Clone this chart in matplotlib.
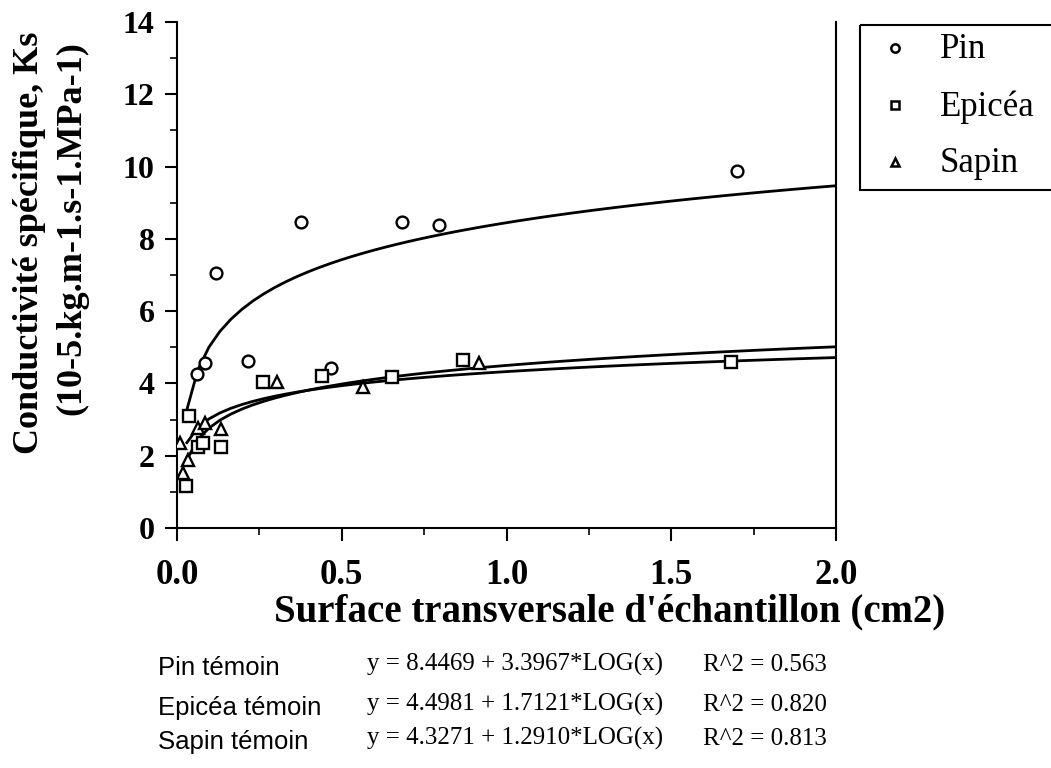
import numpy as np
import matplotlib
matplotlib.use("Agg")
import matplotlib.pyplot as plt
from matplotlib.patches import Rectangle
from matplotlib.ticker import MultipleLocator, FormatStrFormatter

SERIF = "Liberation Serif"
SANS = "Liberation Sans"

# --- data ---
pin_x = [0.062, 0.085, 0.118, 0.215, 0.376, 0.466, 0.682, 0.796, 1.699]
pin_y = [4.25, 4.56, 7.05, 4.62, 8.48, 4.44, 8.48, 8.39, 9.88]

epicea_x = [0.027, 0.037, 0.065, 0.078, 0.134, 0.262, 0.441, 0.652, 0.869, 1.681]
epicea_y = [1.16, 3.10, 2.25, 2.34, 2.25, 4.03, 4.21, 4.19, 4.65, 4.60]

sapin_x = [0.009, 0.019, 0.034, 0.065, 0.085, 0.134, 0.302, 0.565, 0.918]
sapin_y = [2.36, 1.51, 1.88, 2.76, 2.90, 2.74, 4.05, 3.91, 4.56]

# log10 fits printed under the chart: y = a + b*LOG(x)
fit_a = [8.4469, 4.4981, 4.3271]
fit_b = [3.3967, 1.7121, 1.2910]
fit_r2 = [0.563, 0.820, 0.813]
fit_names = ["Pin témoin", "Epicéa témoin", "Sapin témoin"]

legend_names = ["Pin", "Epicéa", "Sapin"]
markers = ["o", "s", "^"]

fig = plt.figure(figsize=(10.51, 7.68), dpi=100)
W, H = 1051, 768
ax = fig.add_axes([177 / W, 1 - 528 / H, (836 - 177) / W, (528 - 22) / H])

# fitted curves
xfit = np.linspace(0.03, 2.0, 60)
for a, b in zip(fit_a, fit_b):
    ax.plot(xfit, a + b * np.log10(xfit), color="black", lw=2.0, zorder=2)

for xs, ys, m in zip((pin_x, epicea_x, sapin_x), (pin_y, epicea_y, sapin_y), markers):
    ax.plot(xs, ys, linestyle="none", marker=m, ms=8.5, mfc="white",
            mec="black", mew=1.7, zorder=3)

ax.set_xlim(0, 2.0)
ax.set_ylim(0, 14)
ax.xaxis.set_major_locator(MultipleLocator(0.5))
ax.xaxis.set_minor_locator(MultipleLocator(0.25))
ax.yaxis.set_major_locator(MultipleLocator(2))
ax.yaxis.set_minor_locator(MultipleLocator(1))
ax.xaxis.set_major_formatter(FormatStrFormatter("%.1f"))
ax.spines["top"].set_visible(False)
for s in ("left", "bottom", "right"):
    ax.spines[s].set_linewidth(1.5)
ax.tick_params(which="major", direction="out", length=9, width=1.5)
ax.tick_params(which="minor", direction="out", length=5, width=1.2)
ax.tick_params(axis="y", which="both", right=False, pad=7)
ax.tick_params(axis="x", which="major", pad=13)
for lab in ax.get_xticklabels():
    lab.set_fontfamily(SERIF)
    lab.set_fontweight("bold")
    lab.set_fontsize(25)
for lab in ax.get_yticklabels():
    lab.set_fontfamily(SERIF)
    lab.set_fontweight("bold")
    lab.set_fontsize(23)

# axis titles
fig.text(610 / W, 1 - 612 / H, "Surface transversale d'échantillon (cm2)",
         family=SERIF, weight="bold", fontsize=28, ha="center", va="center")
fig.text(30 / W, 1 - 243 / H, "Conductivité spécifique, Ks", family=SERIF,
         weight="bold", fontsize=26, rotation=90, ha="center", va="center")
fig.text(72 / W, 1 - 228 / H, "(10-5.kg.m-1.s-1.MPa-1)", family=SERIF,
         weight="bold", fontsize=26, rotation=90, ha="center", va="center")

# legend box (runs off the right edge)
lax = fig.add_axes([860 / W, 1 - 190 / H, 260 / W, 165 / H])
lax.set_xlim(0, 260)
lax.set_ylim(190, 25)
lax.axis("off")
lax.add_patch(Rectangle((0, 25), 260, 165, fill=False, lw=1.5,
                        edgecolor="black", clip_on=False))
for i, (name, m) in enumerate(zip(legend_names, markers)):
    yy = 48 + i * 57
    lax.plot([35], [yy], marker=m, ms=6, mfc="white", mec="black", mew=1.8,
             clip_on=False)
    lax.text(80, yy + 2, name, family=SERIF, fontsize=25, ha="left", va="center")

# fit equations under the chart
for i, (name, a, b, r2) in enumerate(zip(fit_names, fit_a, fit_b, fit_r2)):
    yb = [675, 715, 749][i]
    fig.text(158 / W, 1 - yb / H, name, family=SANS, fontsize=18.5,
             ha="left", va="baseline")
    fig.text(367 / W, 1 - (yb - 4) / H, f"y = {a:.4f} + {b:.4f}*LOG(x)",
             family=SERIF, fontsize=18, ha="left", va="baseline")
    fig.text(703 / W, 1 - (yb - 4) / H, f"R^2 = {r2:.3f}",
             family=SERIF, fontsize=18, ha="left", va="baseline")

fig.savefig("out.png", dpi=100, facecolor="white")
